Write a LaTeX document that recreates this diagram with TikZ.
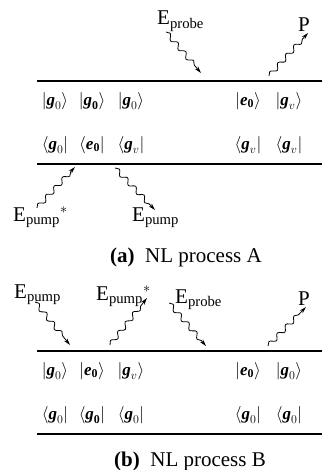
\documentclass[tikz,border=0pt]{standalone}
\usepackage{amsmath}
\usepackage{fontspec}
\setmainfont{Liberation Serif}
\usetikzlibrary{decorations.pathmorphing,arrows.meta}
\newcommand{\kt}[2]{$\left|\text{\bfseries\itshape #1}_{#2}\right\rangle$}
\newcommand{\br}[2]{$\left\langle\text{\bfseries\itshape #1}_{#2}\right|$}
\begin{document}
\begin{tikzpicture}[x=1pt,y=-1pt,
  lbl/.style={inner sep=0pt,anchor=base west,font=\fontsize{21}{24}\selectfont},
  captext/.style={inner sep=0pt,anchor=base,font=\fontsize{21}{24}\selectfont},
  st/.style={inner sep=0pt,font=\fontsize{17}{20}\selectfont},
  bar/.style={line width=2.6pt},
  wave/.style={decorate,decoration={snake,amplitude=2.4pt,segment length=12pt,post length=6pt},
    -{Stealth[length=7pt,width=4pt]},line width=0.8pt}]
\useasboundingbox (0,0) rectangle (322,470);
% ---------- (a) ----------
\coordinate (a1) at (37,81); \coordinate (a2) at (322,81);
\coordinate (a3) at (37,164); \coordinate (a4) at (322,164);
\draw[bar] (a1) -- (a2);
\draw[bar] (a3) -- (a4);
\node[st] (ak1) at (55,101) {\kt{g}{0}};
\node[st] (ak2) at (92,101) {\kt{g}{\mathbf{0}}};
\node[st] (ak3) at (131,101) {\kt{g}{0}};
\node[st] (ak4) at (248,101) {\kt{e}{\mathbf{0}}};
\node[st] (ak5) at (289,101) {\kt{g}{v}};
\node[st] (ab1) at (55,145) {\br{g}{0}};
\node[st] (ab2) at (92,145) {\br{e}{\mathbf{0}}};
\node[st] (ab3) at (131,145) {\br{g}{v}};
\node[st] (ab4) at (248,145) {\br{g}{v}};
\node[st] (ab5) at (289,145) {\br{g}{v}};
\node[lbl] (aprobe) at (157,25) {E$_{\text{probe}}$};
\node[lbl] (aP) at (298,32) {P};
\node[lbl] (apumpc) at (13,221) {E$_{\text{pump}}{}^{*}$};
\node[lbl] (apump) at (132,221) {E$_{\text{pump}}$};
\coordinate (w1s) at (166,32); \coordinate (w1e) at (201,73);
\coordinate (w2s) at (269,76); \coordinate (w2e) at (308,33);
\coordinate (w3s) at (37,208); \coordinate (w3e) at (75,167);
\coordinate (w4s) at (115,168); \coordinate (w4e) at (155,210);
\draw[wave] (w1s) -- (w1e);
\draw[wave] (w2s) -- (w2e);
\draw[wave] (w3s) -- (w3e);
\draw[wave] (w4s) -- (w4e);
\node[captext] (capa) at (186,262) {\textbf{(a)}\ \ NL process A};
% ---------- (b) ----------
\coordinate (b1) at (37,351); \coordinate (b2) at (322,351);
\coordinate (b3) at (37,434); \coordinate (b4) at (322,434);
\draw[bar] (b1) -- (b2);
\draw[bar] (b3) -- (b4);
\node[st] (bk1) at (55,371) {\kt{g}{0}};
\node[st] (bk2) at (92,371) {\kt{e}{\mathbf{0}}};
\node[st] (bk3) at (131,371) {\kt{g}{v}};
\node[st] (bk4) at (248,371) {\kt{e}{\mathbf{0}}};
\node[st] (bk5) at (289,371) {\kt{g}{0}};
\node[st] (bb1) at (55,415) {\br{g}{0}};
\node[st] (bb2) at (92,415) {\br{g}{\mathbf{0}}};
\node[st] (bb3) at (131,415) {\br{g}{0}};
\node[st] (bb4) at (248,415) {\br{g}{0}};
\node[st] (bb5) at (289,415) {\br{g}{0}};
\node[lbl] (bpump) at (14,298) {E$_{\text{pump}}$};
\node[lbl] (bpumpc) at (96,300) {E$_{\text{pump}}{}^{*}$};
\node[lbl] (bprobe) at (175,303) {E$_{\text{probe}}$};
\node[lbl] (bP) at (298,305) {P};
\coordinate (v1s) at (35,302); \coordinate (v1e) at (70,345);
\coordinate (v2s) at (110,345); \coordinate (v2e) at (147,298);
\coordinate (v3s) at (169,303); \coordinate (v3e) at (206,346);
\coordinate (v4s) at (268,346); \coordinate (v4e) at (306,307);
\draw[wave] (v1s) -- (v1e);
\draw[wave] (v2s) -- (v2e);
\draw[wave] (v3s) -- (v3e);
\draw[wave] (v4s) -- (v4e);
\node[captext] (capb) at (190,466) {\textbf{(b)}\ \ NL process B};
\end{tikzpicture}
\end{document}
